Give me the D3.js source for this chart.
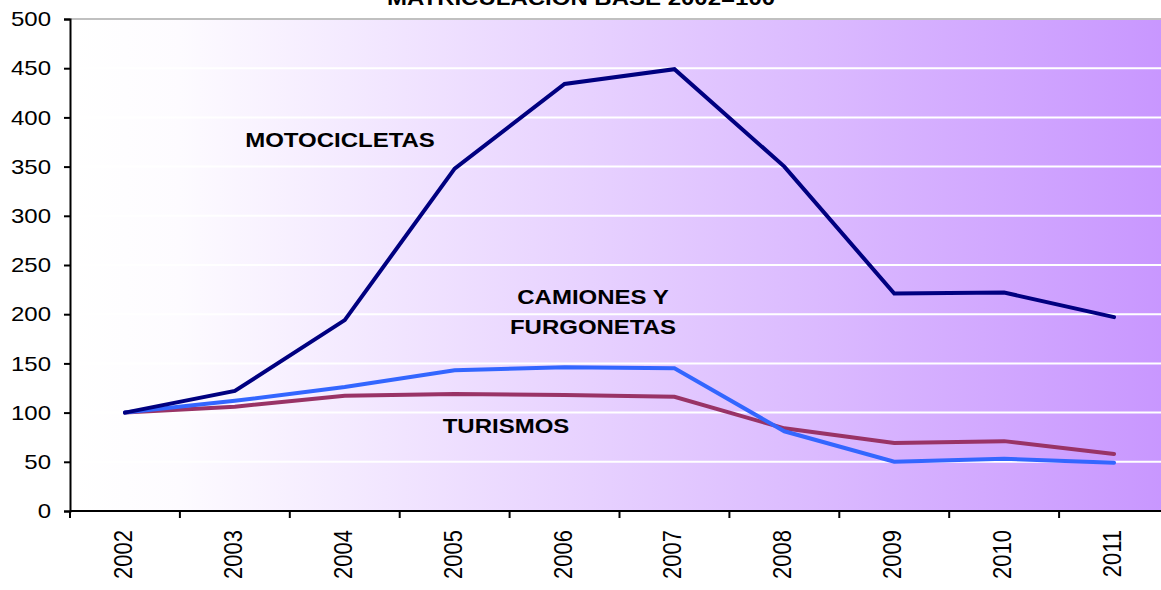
<!DOCTYPE html>
<html><head><meta charset="utf-8">
<script src="https://cdn.jsdelivr.net/npm/d3@7"></script>
<style>body{margin:0;background:#fff;overflow:hidden}svg{display:block}text{font-family:Arial,"Liberation Sans",sans-serif}</style>
</head><body>
<script>
const years = ["2002","2003","2004","2005","2006","2007","2008","2009","2010","2011"];
const motocicletas = [100,122,194,348,434,449,350,221,222,197];
const camiones = [100,112,126,143,146,145,81,50,53,49];
const turismos = [100,106,117,119,118,116,84,69,71,58];
const yTicks = [0,50,100,150,200,250,300,350,400,450,500];
const title = "MATRICULACIÓN BASE 2002=100";

const W=1161,H=590,SX=1.2;
const svg=d3.select("body").append("svg").attr("width",W).attr("height",H);
const L=70,R=1169,T=19,B=511;
const x=d3.scaleBand().domain(years).range([L,R]);
const y=d3.scaleLinear().domain([0,500]).range([B,T]);

const defs=svg.append("defs");
const g=defs.append("linearGradient").attr("id","bg").attr("gradientUnits","userSpaceOnUse")
 .attr("x1",L).attr("x2",R).attr("y1",0).attr("y2",0);
g.append("stop").attr("offset","0").attr("stop-color","#ffffff");
g.append("stop").attr("offset","0.1").attr("stop-color","#fdfbff");
g.append("stop").attr("offset","1").attr("stop-color","#c896ff");
svg.append("rect").attr("x",L).attr("y",T).attr("width",R-L).attr("height",B-T).attr("fill","url(#bg)");

svg.selectAll(".grid").data(yTicks.filter(d=>d>0&&d<500)).enter().append("line")
 .attr("x1",L).attr("x2",R).attr("y1",d=>y(d)).attr("y2",d=>y(d))
 .attr("stroke","#ffffff").attr("stroke-width",2);
svg.append("line").attr("x1",L).attr("x2",R).attr("y1",y(500)).attr("y2",y(500))
 .attr("stroke","#c0c0c0").attr("stroke-width",2);

// title
svg.append("text").attr("transform",`translate(581,5) scale(${SX},1)`).attr("text-anchor","middle")
 .attr("font-size",20).attr("font-weight","bold").text(title);

// y axis
const ya=svg.append("g").attr("transform",`translate(${L},0)`)
 .call(d3.axisLeft(y).tickValues(yTicks).tickSize(6).tickFormat(""));
ya.select(".domain").attr("stroke","#000").attr("stroke-width",2);
ya.selectAll(".tick line").attr("stroke","#000").attr("stroke-width",2);
svg.selectAll(".yl").data(yTicks).enter().append("text")
 .attr("transform",d=>`translate(51,${y(d)}) scale(${SX},1)`)
 .attr("dy","0.36em").attr("text-anchor","end").attr("font-size",20).attr("fill","#000").text(d=>d);

// x axis
const xa=svg.append("g").attr("transform",`translate(0,${B})`);
xa.append("line").attr("x1",L).attr("x2",R).attr("y1",0).attr("y2",0).attr("stroke","#000").attr("stroke-width",2);
const bounds=years.map(d=>x(d)).concat([R]);
xa.selectAll(".xt").data(bounds).enter().append("line")
 .attr("x1",d=>d).attr("x2",d=>d).attr("y1",0).attr("y2",7).attr("stroke","#000").attr("stroke-width",2);
xa.selectAll(".xl").data(years).enter().append("text")
 .attr("transform",d=>`translate(${x(d)+x.bandwidth()/2+7},19) scale(${SX},1) rotate(-90)`)
 .attr("text-anchor","end").attr("font-size",22).attr("fill","#000").text(d=>d);

const line=d3.line().x((d,i)=>x(years[i])+x.bandwidth()/2).y(d=>y(d));
const series=[[turismos,"#993366"],[camiones,"#3366ff"],[motocicletas,"#000080"]];
series.forEach(([v,c])=>{
 svg.append("path").datum(v).attr("d",line).attr("fill","none").attr("stroke",c)
  .attr("stroke-width",4).attr("stroke-linejoin","miter").attr("stroke-linecap","round");
});

const labels=[["MOTOCICLETAS",340,147],["CAMIONES Y",593,304],["FURGONETAS",593,334],["TURISMOS",506,433]];
svg.selectAll(".lab").data(labels).enter().append("text")
 .attr("transform",d=>`translate(${d[1]},${d[2]}) scale(${SX},1)`).attr("text-anchor","middle")
 .attr("font-size",20).attr("font-weight","bold").attr("fill","#000").text(d=>d[0]);
</script>
</body></html>
